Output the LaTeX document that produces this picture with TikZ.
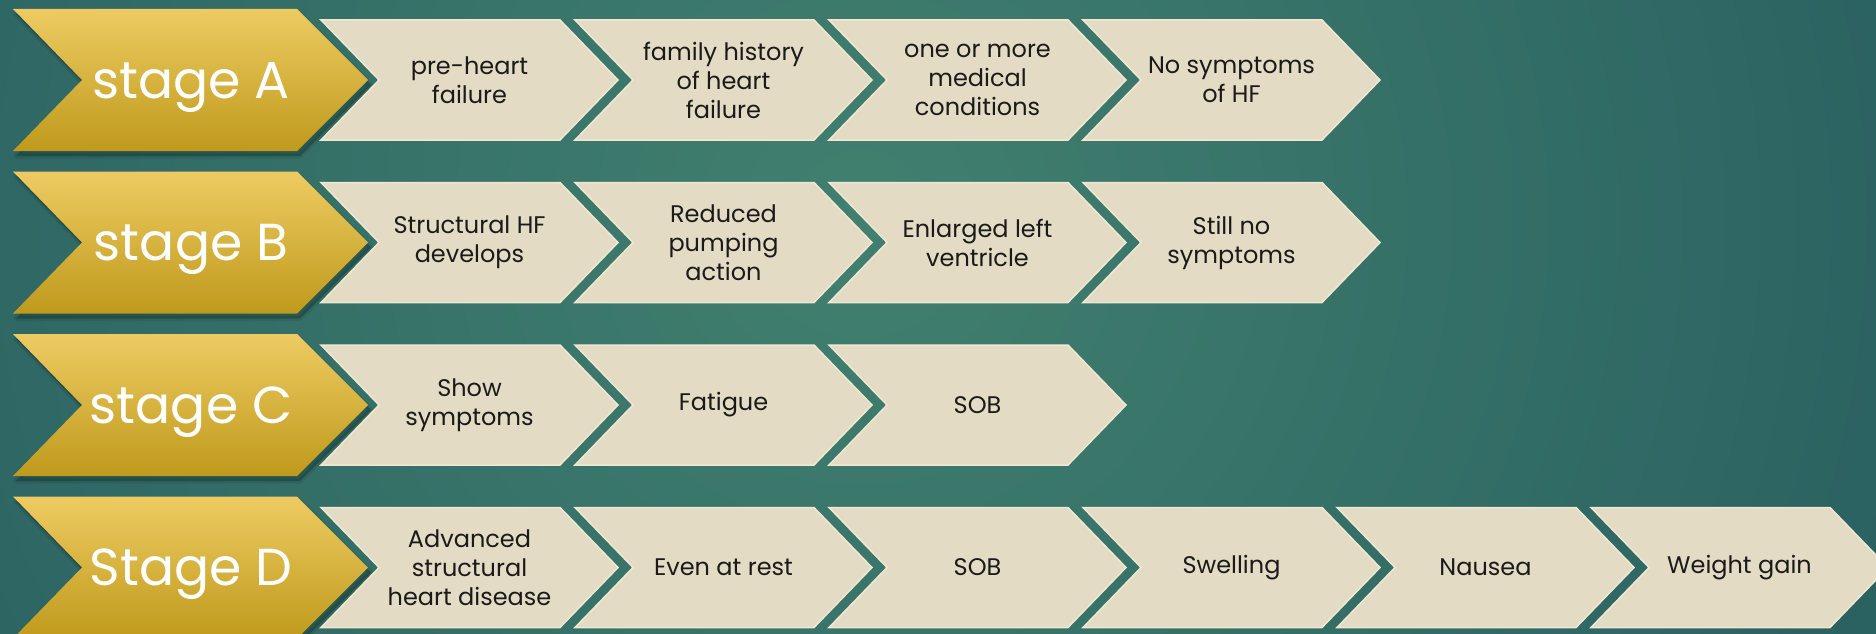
\documentclass[tikz,border=0pt]{standalone}
\usepackage{fontspec}
\newfontfamily\gothic{Poppins}
\definecolor{bgin}{HTML}{41806F}
\definecolor{bgout}{HTML}{1B4D58}
\definecolor{goldtop}{HTML}{EECB62}
\definecolor{goldbot}{HTML}{BF9A1C}
\definecolor{beigefill}{HTML}{E3DBC4}
\definecolor{beigeedge}{HTML}{F0E8D3}
\definecolor{inktext}{HTML}{1A1A1A}
\tikzset{
  goldshape/.style={top color=goldtop, bottom color=goldbot, draw=none},
  beigeshape/.style={fill=beigefill, draw=beigeedge, line width=1.5pt, line join=miter},
  shadowshape/.style={fill=black, fill opacity=0.22, draw=black, draw opacity=0.08, line width=5pt, line join=round},
  stagetext/.style={text=white, font=\gothic\fontsize{52}{60}\selectfont, inner sep=0pt, anchor=base},
  steptext/.style={text=inktext, font=\gothic\fontsize{24}{29}\selectfont, align=center, inner sep=0pt, anchor=center},
}
\newcommand{\goldchev}[3]{%
  \path[shadowshape] (16,#2-66) -- ++(284,0) -- ++(71,71) -- ++(-71,71) -- ++(-284,0) -- ++(69,-71) -- cycle;
  \path[goldshape] (13,#2-71) -- ++(284,0) -- ++(71,71) -- ++(-71,71) -- ++(-284,0) -- ++(69,-71) -- cycle;
  \node[stagetext] (#1) at (191,#2+18) {#3};}
\newcommand{\beigechev}[4]{%
  \path[beigeshape] (#2,#3-60) -- ++(239,0) -- ++(58,60) -- ++(-58,60) -- ++(-239,0) -- ++(58,-60) -- cycle;
  \node[steptext] (#1) at (#2+148.5,#3) {#4};}
\begin{document}
\begin{tikzpicture}[x=1pt,y=-1pt]
\useasboundingbox (0,0) rectangle (1876,634);
\begin{scope}
\clip (0,0) rectangle (1876,634);
\shade[inner color=bgin, outer color=bgout] (860,220) circle (1800);
% row A
\goldchev{sA}{80}{stage A}
\beigechev{a1}{321}{80}{pre-heart\\failure}
\beigechev{a2}{575}{80}{family history\\of heart\\failure}
\beigechev{a3}{829}{80}{one or more\\medical\\conditions}
\beigechev{a4}{1083}{80}{No symptoms\\of HF}
% row B
\goldchev{sB}{242.5}{stage B}
\beigechev{b1}{321}{242.5}{Structural HF\\develops}
\beigechev{b2}{575}{242.5}{Reduced\\pumping\\action}
\beigechev{b3}{829}{242.5}{Enlarged left\\ventricle}
\beigechev{b4}{1083}{242.5}{Still no\\symptoms}
% row C
\goldchev{sC}{405}{stage C}
\beigechev{c1}{321}{405}{Show\\symptoms}
\beigechev{c2}{575}{405}{Fatigue}
\beigechev{c3}{829}{405}{SOB}
% row D
\goldchev{sD}{567.5}{Stage D}
\beigechev{d1}{321}{567.5}{Advanced\\structural\\heart disease}
\beigechev{d2}{575}{567.5}{Even at rest}
\beigechev{d3}{829}{567.5}{SOB}
\beigechev{d4}{1083}{567.5}{Swelling}
\beigechev{d5}{1337}{567.5}{Nausea}
\beigechev{d6}{1591}{567.5}{Weight gain}
\end{scope}
\end{tikzpicture}
\end{document}
